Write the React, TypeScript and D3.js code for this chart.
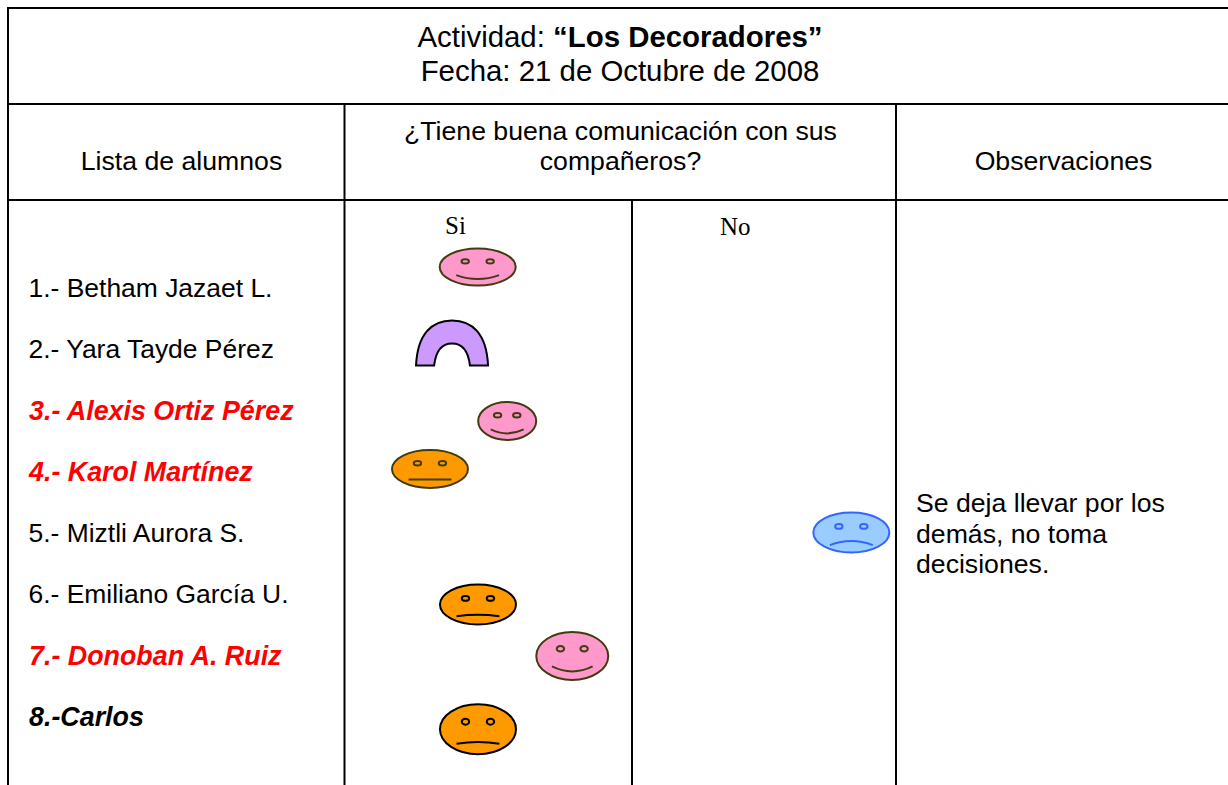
import React from "react";
import * as d3 from "d3";

const WIDTH = 1228;
const HEIGHT = 785;

const titleLabel = "Actividad: ";
const titleActivity = "“Los Decoradores”";
const dateLabel = "Fecha: 21 de Octubre de 2008";
const headerStudents = "Lista de alumnos";
const headerQuestion = ["¿Tiene buena comunicación con sus", "compañeros?"];
const headerNotes = "Observaciones";
const answerLabels = ["Si", "No"];
const noteLines = ["Se deja llevar por los", "demás, no toma", "decisiones."];

const students = [
  "1.- Betham Jazaet L.",
  "2.- Yara Tayde Pérez",
  "3.- Alexis Ortiz Pérez",
  "4.- Karol Martínez",
  "5.- Miztli Aurora S.",
  "6.- Emiliano García U.",
  "7.- Donoban A. Ruiz",
  "8.-Carlos",
];
const studentEmphasis = ["none", "none", "red", "red", "none", "none", "red", "bold"];

// Horizontal reading across the answer columns (0 = left of Si, 1 = right of No)
const markAnswer = [0.2415, 0.195, 0.295, 0.155, 0.919, 0.242, 0.413, 0.242];
// Vertical reading in student-row units
const markRow = [0.657, 1.897, 3.17, 3.953, 4.989, 6.164, 7.004, 8.2];
const markKind = ["happy", "arch", "happy", "neutralFlat", "sad", "neutral", "happy", "neutral"];
const markWidth = [78, 73, 60, 78, 78, 78, 74, 78];
const markHeight = [39, 46, 40, 40, 42, 42, 50, 52];

const xAnswer = d3.scaleLinear().domain([0, 1]).range([344.5, 896]);
const yRow = d3.scaleLinear().domain([1, 8]).range([288, 717]);

const palette: Record<string, { fill: string; stroke: string }> = {
  happy: { fill: "#ff99cc", stroke: "#403c10" },
  neutral: { fill: "#ff9900", stroke: "#000000" },
  neutralFlat: { fill: "#ff9900", stroke: "#403c10" },
  sad: { fill: "#99ccff", stroke: "#3366ff" },
  arch: { fill: "#cc99ff", stroke: "#000000" },
};

function Face({ cx, cy, w, h, kind }: { cx: number; cy: number; w: number; h: number; kind: string }) {
  const { fill, stroke } = palette[kind];
  const eyeY = cy - h * 0.145;
  const eyeDx = w * 0.16;
  const mx = w * 0.275;
  const baseRatio = kind === "happy" ? 0.21 : kind === "neutralFlat" ? 0.26 : kind === "neutral" ? 0.28 : 0.3;
  const bendRatio = kind === "happy" ? 0.1 : kind === "neutralFlat" ? 0 : kind === "neutral" ? -0.035 : -0.095;
  const base = cy + h * baseRatio;
  const mouth = d3.path();
  mouth.moveTo(cx - mx, base);
  mouth.quadraticCurveTo(cx, base + h * bendRatio * 2, cx + mx, base);
  return (
    <g>
      <ellipse cx={cx} cy={cy} rx={w / 2 - 1} ry={h / 2 - 1} fill={fill} stroke={stroke} strokeWidth={2} />
      {[-1, 1].map((s) => (
        <ellipse key={s} cx={cx + s * eyeDx} cy={eyeY} rx={3.7} ry={h * 0.056} fill={fill} stroke={stroke} strokeWidth={2} />
      ))}
      <path d={mouth.toString()} fill="none" stroke={stroke} strokeWidth={2} />
    </g>
  );
}

function Arch({ cx, cy, w, h }: { cx: number; cy: number; w: number; h: number }) {
  const { fill, stroke } = palette.arch;
  const outer = w / 2 - 0.5;
  const inner = w * 0.245;
  const left = cx - outer;
  const right = cx + outer;
  const bottom = cy + h / 2 - 0.5;
  const top = cy - h / 2 + 0.5;
  const legInset = w * 0.02;
  const innerTop = top + h * 0.5;
  const d = [
    `M${left},${bottom}`,
    `C${left + legInset},${top + h * 0.28} ${cx - outer * 0.55},${top} ${cx},${top}`,
    `C${cx + outer * 0.55},${top} ${right - legInset},${top + h * 0.28} ${right},${bottom}`,
    `L${cx + inner},${bottom}`,
    `C${cx + inner * 0.9},${innerTop + h * 0.13} ${cx + inner * 0.5},${innerTop} ${cx},${innerTop}`,
    `C${cx - inner * 0.5},${innerTop} ${cx - inner * 0.9},${innerTop + h * 0.13} ${cx - inner},${bottom}`,
    "Z",
  ].join(" ");
  return <path d={d} fill={fill} stroke={stroke} strokeWidth={2} strokeLinejoin="miter" />;
}

export default function App() {
  const sans = "'Liberation Sans', Arial, sans-serif";
  const serif = "'Liberation Serif', 'Times New Roman', serif";
  const size = 26.65;
  const titleSize = 29.4;
  const line = (x1: number, y1: number, x2: number, y2: number, key: string) => (
    <line key={key} x1={x1} y1={y1} x2={x2} y2={y2} stroke="#000" strokeWidth={2} />
  );
  return (
    <svg
      width={WIDTH}
      height={HEIGHT}
      viewBox={`0 0 ${WIDTH} ${HEIGHT}`}
      style={{ position: "absolute", left: 0, top: 0, background: "#fff", display: "block" }}
    >
      {line(7, 8, WIDTH, 8, "top")}
      {line(7, 104, WIDTH, 104, "h1")}
      {line(7, 200, WIDTH, 200, "h2")}
      {line(8, 8, 8, HEIGHT, "left")}
      {line(344.5, 104, 344.5, HEIGHT, "v1")}
      {line(632, 200, 632, HEIGHT, "v2")}
      {line(896, 104, 896, HEIGHT, "v3")}

      <g fontFamily={sans} fontSize={size} fill="#000">
        <text x={620} y={47} textAnchor="middle" fontSize={titleSize}>
          {titleLabel}
          <tspan fontWeight="bold">{titleActivity}</tspan>
        </text>
        <text x={620} y={81} textAnchor="middle" fontSize={titleSize}>{dateLabel}</text>
        <text x={181.5} y={170} textAnchor="middle">{headerStudents}</text>
        {headerQuestion.map((t, i) => (
          <text key={t} x={620.5} y={140 + i * 30} textAnchor="middle">{t}</text>
        ))}
        <text x={1063.5} y={170} textAnchor="middle">{headerNotes}</text>
        {students.map((s, i) => {
          const e = studentEmphasis[i];
          return (
            <text
              key={s}
              x={e === "none" ? 28.5 : 29}
              y={yRow(i + 1) + 9}
              fill={e === "red" ? "#ff0000" : "#000"}
              fontSize={e === "none" ? 26.45 : 26.85}
              fontWeight={e === "none" ? "normal" : "bold"}
              fontStyle={e === "none" ? "normal" : "italic"}
            >
              {s}
            </text>
          );
        })}
        {noteLines.map((t, i) => (
          <text key={t} x={916} y={512 + i * 30.5}>{t}</text>
        ))}
      </g>

      <g fontFamily={serif} fontSize={25} fill="#000">
        <text x={445} y={234}>{answerLabels[0]}</text>
        <text x={720} y={235}>{answerLabels[1]}</text>
      </g>

      {markKind.map((kind, i) => {
        const cx = xAnswer(markAnswer[i]);
        const cy = yRow(markRow[i]);
        return kind === "arch" ? (
          <Arch key={i} cx={cx} cy={cy} w={markWidth[i]} h={markHeight[i]} />
        ) : (
          <Face key={i} cx={cx} cy={cy} w={markWidth[i]} h={markHeight[i]} kind={kind} />
        );
      })}
    </svg>
  );
}
